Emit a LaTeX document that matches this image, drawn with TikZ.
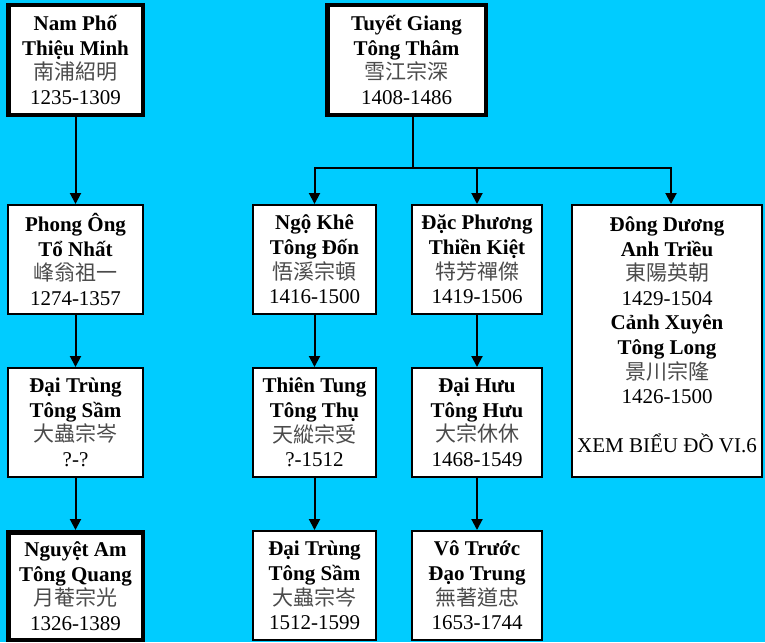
\documentclass[tikz,border=0pt]{standalone}
\usepackage{fontspec}
\setmainfont{Liberation Serif}
\newfontfamily\cjk{Noto Sans CJK TC}
\usepackage{tikz}
\usetikzlibrary{arrows.meta}
\definecolor{bgcyan}{RGB}{0,204,255}
\definecolor{hanzi}{RGB}{75,75,75}
\newcommand{\hz}[1]{{\cjk\color{hanzi}#1}}
\tikzset{
	person/.style={draw, line width=2pt, fill=white, align=center, inner sep=0pt,
		minimum height=109pt, font=\fontsize{21}{24.6}\selectfont},
	root/.style={person, line width=4.5pt, minimum height=109.5pt},
	link/.style={line width=2pt, -{Triangle[length=11pt, width=11pt]}}
}
\begin{document}
\begin{tikzpicture}[x=1pt, y=-1pt]
		\fill[bgcyan](0,0)rectangle(765,642);
		\useasboundingbox(0,0)rectangle(765,642);
		% first line
		\node[root, minimum width=134.5pt](np)at(75.5,60){\textbf{Nam Phố}\\\textbf{Thiệu Minh}\\\hz{南浦紹明}\\1235-1309};
		\node[person, minimum width=135pt](po)at(75.5,259.5){\textbf{Phong Ông}\\\textbf{Tổ Nhất}\\\hz{峰翁祖一}\\1274-1357};
		\node[person, minimum width=135pt](dt)at(75.5,422.5){\textbf{Đại Trùng}\\\textbf{Tông Sầm}\\\hz{大蟲宗岑}\\?-?};
		\node[root, minimum width=134.5pt, minimum height=107.5pt](na)at(75.5,586){\textbf{Nguyệt Am}\\\textbf{Tông Quang}\\\hz{月菴宗光}\\1326-1389};
		\draw[link](np)--(po);
		\draw[link](po)--(dt);
		\draw[link](dt)--(na);
		% second line
		\node[root, minimum width=158.5pt](tg)at(406.5,60){\textbf{Tuyết Giang}\\\textbf{Tông Thâm}\\\hz{雪江宗深}\\1408-1486};
		\node[person, minimum width=123pt](nk)at(314.5,259.5){\textbf{Ngộ Khê}\\\textbf{Tông Đốn}\\\hz{悟溪宗頓}\\1416-1500};
		\node[person, minimum width=130pt](dp)at(477,259.5){\textbf{Đặc Phương}\\\textbf{Thiền Kiệt}\\\hz{特芳禪傑}\\1419-1506};
		\node[person, minimum width=190pt, minimum height=272pt](dd)at(667,341){\textbf{Đông Dương}\\\textbf{Anh Triều}\\\hz{東陽英朝}\\1429-1504\\\textbf{Cảnh Xuyên}\\\textbf{Tông Long}\\\hz{景川宗隆}\\1426-1500\\[24.6pt]XEM BIỂU ĐỒ VI.6\\[-12pt]\mbox{}};
		\node[person, minimum width=123pt](tt)at(314.5,422.5){\textbf{Thiên Tung}\\\textbf{Tông Thụ}\\\hz{天縱宗受}\\?-1512};
		\node[person, minimum width=130pt](dh)at(477,422.5){\textbf{Đại Hưu}\\\textbf{Tông Hưu}\\\hz{大宗休休}\\1468-1549};
		\node[person, minimum width=123pt](dt2)at(314.5,585.5){\textbf{Đại Trùng}\\\textbf{Tông Sầm}\\\hz{大蟲宗岑}\\1512-1599};
		\node[person, minimum width=130pt](vt)at(477,585.5){\textbf{Vô Trước}\\\textbf{Đạo Trung}\\\hz{無著道忠}\\1653-1744};
		\coordinate(split)at(413,168);
		\draw[line width=2pt](tg.south-|split)--(split);
		\draw[link](split)-|(nk.north);
		\draw[link](split)-|(dp.north);
		\draw[link](split)-|([xshift=4pt]dd.north);
		\draw[link](nk)--(tt);
		\draw[link](tt)--(dt2);
		\draw[link](dp)--(dh);
		\draw[link](dh)--(vt);
	\end{tikzpicture}
\end{document}
